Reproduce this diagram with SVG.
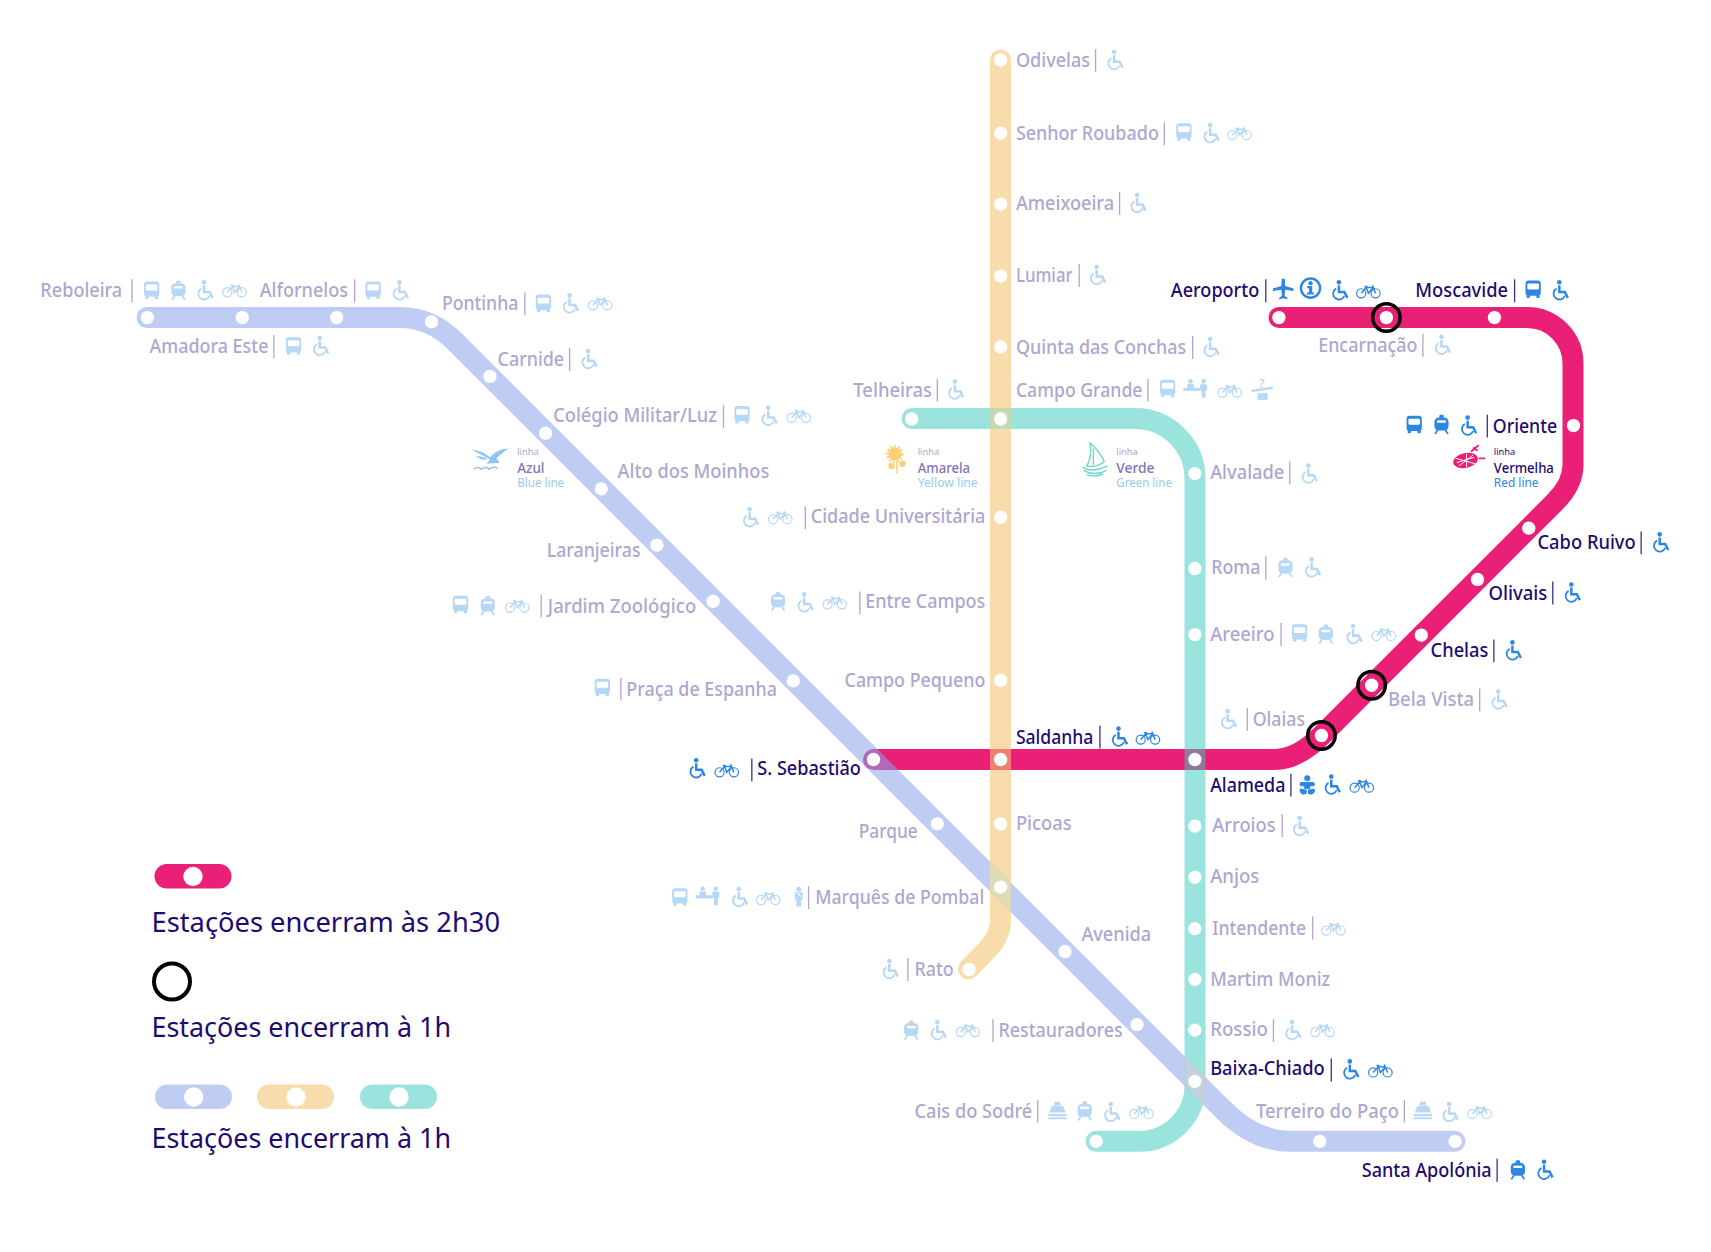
<svg xmlns="http://www.w3.org/2000/svg" width="1711" height="1252" viewBox="0 0 1711 1252">
<style>
text{font-family:"Noto Sans","Open Sans",sans-serif;transform:translateY(-.6px)}
.line{fill:none;stroke-width:21;stroke-linecap:round;stroke-linejoin:round}
.d{fill:#fff}
.r{fill:none;stroke:#000;stroke-width:3.2}
.p text{fill:#aea6d0;font-size:18.3px;font-weight:500}
.s text{fill:#1f0a72;font-size:18.3px;font-weight:500}
.p line{stroke:#aea6d0;stroke-width:1.2}
.s line{stroke:#3d2e8c;stroke-width:1.2}
.p use{color:#b6d7f6}
.s use{color:#2d87e2}
.lg{fill:#1f0a72;font-size:28px;transform:none}
.p text.k,.s text.k{font-size:8.5px;font-weight:400}
.p text.n{font-size:13.5px;fill:#7f74b4}
.s text.n{font-size:13.5px}
.p text.e,.s text.e{font-size:11.5px;font-weight:400;fill:#9cc9f3}
.s text.e{fill:#2d87e2}
</style>
<defs>
<g id="bus" fill="currentColor"><rect x="-7" y="-8" width="14" height="14" rx="2.8"/><rect x="-5.3" y="-5.2" width="10.600" height="5.4" rx="1" fill="#fff"/><rect x="-6" y="5.5" width="3" height="2.5"/><rect x="3" y="5.500" width="3" height="2.5"/></g>
<g id="train" fill="currentColor"><rect x="-6.500" y="-6.500" width="13" height="12" rx="4"/><rect x="-2" y="-8.800" width="4" height="3" rx="1"/><rect x="-4" y="-3.800" width="8" height="2.200" fill="#fff"/><path d="M-3.500 5-6 8.800M3.500 5 6 8.800" stroke="currentColor" stroke-width="1.600" fill="none"/></g>
<g id="chair"><circle cx="-1" cy="-7.300" r="2.100" fill="currentColor"/><path d="M-1-4.500V1.500H4L6.800 7" fill="none" stroke="currentColor" stroke-width="2.300"/><path d="M-3.500-1.500A5.300 5.300 0 1 0 4 5" fill="none" stroke="currentColor" stroke-width="1.700"/></g>
<g id="bike" fill="none" stroke="currentColor" stroke-width="1.100"><circle cx="-6.600" cy="1.800" r="4.200"/><circle cx="6.600" cy="1.800" r="4.200"/><path d="M-6.600 1.800-2-3.500H4.500L6.600 1.800M-2-3.500 0 1.800 4.500-3.500M3.600-5.500 4.500-3.500M-3.600-4.500H-.8" stroke-width="1.400"/></g>
<g id="plane" fill="currentColor"><path d="M-1.400-9.500H1.400L1.800-3 9.500-.5V1.700L1.800.5 1.200 6 3.800 8V9.300L0 8.400-3.800 9.300V8L-1.200 6-1.800.5-9.500 1.700V-.5L-1.800-3Z"/></g>
<g id="info"><circle r="8.800" fill="#fff" stroke="currentColor" stroke-width="2.200"/><circle cy="-4.500" r="2" fill="currentColor"/><path d="M-3-1.800H1.600V4H3.200V6H-3.400V4H-1.400V.2H-3Z" fill="currentColor"/></g>
<g id="ship" fill="currentColor"><path d="M-2.400-8.300H2.400L3.400-5H-3.400ZM-5.300-4.400H5.300L7.400 1.500H-7.400Z"/><rect x="-8.500" y="3" width="17" height="1.900"/><rect x="-8.500" y="6" width="17" height="1.700"/></g>
<g id="desk" fill="currentColor"><circle cx="-6" cy="-6.500" r="2.100"/><rect x="-9" y="-4" width="6" height="3.800"/><rect x="-12.500" y="-.6" width="15.500" height="2.800"/><circle cx="6" cy="-6.500" r="2.100"/><path d="M2.800-3.800H9.200V1.800H7.800V8.500H4.200V1.800H2.800Z"/></g>
<g id="help" fill="currentColor"><path d="M-10-.8 9.500-3.800V-1.700L-10 1.200ZM-4.500 2.400H4.500V8.500H-4.500Z"/></g>
<g id="guard" fill="currentColor"><circle cy="-7" r="2.300"/><path d="M-3.600-4.300H3.600V2.400H2.200V8.800H-2.200V2.400H-3.600Z"/><path d="M-1-3.800 2-.4" stroke="#fff" fill="none"/></g>
<g id="baby" fill="currentColor"><circle cy="-5.800" r="2.800"/><rect x="-7" y="-2.300" width="14" height="3.800" rx="1.900"/><rect x="-2.800" y="-1" width="5.600" height="5"/><path d="M-6.500 3.500A3.800 3.800 0 0 0-.5 8V4.800ZM6.500 3.500A3.800 3.800 0 0 1 .5 8V4.800Z"/></g>
</defs>

<g id="connectors">
<path id="line-red" class="line" stroke="#ea1f76" d="M1279 317.500H1527A46 46 0 0 1 1573 363.500V465Q1573 484 1555 502L1321.500 735.500Q1297 759.500 1275 759.500H873.500"/>
<path id="line-yellow" class="line" stroke="#f5c370" stroke-opacity=".58" d="M1000.500 60V920Q1000.500 936 987 950L968.500 969"/>
<path id="line-green" class="line" stroke="#3fcabe" stroke-opacity=".52" d="M912 418.500H1135A60 60 0 0 1 1195 478.500V1085A56 56 0 0 1 1139 1141.300H1096"/>
<path id="line-blue" class="line" stroke="#8aa4ec" stroke-opacity=".55" d="M147 317.500H400Q431 317.500 455 341.500L1222 1108.500Q1254 1141.300 1290 1141.300H1455"/>
<path id="cross-green-yellow" fill="#c4d8b4" d="M990 408H1011V429H990Z"/>
<path id="cross-blue-yellow" fill="#dfdab8" d="M990 861.600 1011 882.600V912.300L990 891.400Z"/>
<path id="cross-blue-green" fill="#c2d2d8" d="M1184.500 1056.100 1205.500 1077.100V1106.800L1184.500 1085.800Z"/>
</g>

<g id="legend">
<rect x="154.500" y="864" width="77" height="24.500" rx="12.250" fill="#ea1f76"/><circle class="d" cx="193" cy="876.500" r="9.700"/>
<text class="lg" x="151.500" y="931.500" textLength="348.500" lengthAdjust="spacingAndGlyphs">Estações encerram às 2h30</text>
<circle cx="172" cy="981.500" r="18" fill="none" stroke="#000" stroke-width="4"/>
<text class="lg" x="151.500" y="1036.500" textLength="299.500" lengthAdjust="spacingAndGlyphs">Estações encerram à 1h</text>
<rect x="155" y="1084.500" width="77" height="24.500" rx="12.250" fill="#bfcdf5"/><circle class="d" cx="193.700" cy="1097" r="9.700"/>
<rect x="257" y="1084.500" width="77" height="24.500" rx="12.250" fill="#f9dcac"/><circle class="d" cx="296" cy="1097" r="9.700"/>
<rect x="360" y="1084.500" width="77" height="24.500" rx="12.250" fill="#9be3dd"/><circle class="d" cx="399" cy="1097" r="9.700"/>
<text class="lg" x="151.500" y="1147.500" textLength="299.500" lengthAdjust="spacingAndGlyphs">Estações encerram à 1h</text>
</g>

<g id="map" transform="scale(1.0912)">
<g id="caption-azul" class="p">
<path d="M432 412Q442 413 449 419Q456 411 466 411Q459 416 455 420L458 424 446 425 449 421Q440 416 432 412ZM436 418Q442 418 447 421L441 421Z" fill="#8fc4f5"/>
<path d="M434 430q4-3 7 0q4-3 7 0q4-3 8-1" fill="none" stroke="#8fc4f5" stroke-width="1.400"/>
<text class="k" x="474" y="418">linha</text>
<text class="n" x="474" y="434" textLength="25" lengthAdjust="spacingAndGlyphs">Azul</text>
<text class="e" x="474" y="447" textLength="43" lengthAdjust="spacingAndGlyphs">Blue line</text>
</g>
<g id="caption-amarela" class="p">
<circle cx="820" cy="416" r="6" fill="#fbd078" stroke="#fbd078" stroke-width="4" stroke-dasharray="1.500 1.500"/>
<circle cx="827" cy="425" r="3" fill="#fbd078"/><circle cx="817" cy="427" r="3" fill="#fbd078"/>
<path d="M822 422V434" stroke="#fbd078" stroke-width="1.400"/>
<text class="k" x="841" y="418">linha</text>
<text class="n" x="841" y="434" textLength="48" lengthAdjust="spacingAndGlyphs">Amarela</text>
<text class="e" x="841" y="447" textLength="55" lengthAdjust="spacingAndGlyphs">Yellow line</text>
</g>
<g id="caption-verde" class="p">
<path d="M999 406Q1001 418 996 427Q1005 429 1012 423Q1008 414 999 406ZM1002 411V426" fill="none" stroke="#72d5cc" stroke-width="1.300"/>
<path d="M992 428Q1000 434 1015 427M993 431Q1003 437 1014 431M996 435Q1004 438 1011 434" fill="none" stroke="#72d5cc" stroke-width="1.300"/>
<text class="k" x="1023" y="418">linha</text>
<text class="n" x="1023" y="434" textLength="35" lengthAdjust="spacingAndGlyphs">Verde</text>
<text class="e" x="1023" y="447" textLength="51" lengthAdjust="spacingAndGlyphs">Green line</text>
</g>
<g id="caption-vermelha" class="s">
<ellipse cx="1343" cy="422" rx="11.500" ry="6.800" transform="rotate(-12 1343 422)" fill="#ea1f76"/>
<path d="M1334 420L1352 425M1337 427L1350 417M1344 416V428M1335 424L1351 419" stroke="#fff" stroke-width=".9"/>
<path d="M1348 414L1355 408M1350 410L1354 413M1355 420H1361" stroke="#ea1f76" stroke-width="1.700"/>
<text class="k" x="1369" y="418">linha</text>
<text class="n" x="1369" y="434" textLength="55" lengthAdjust="spacingAndGlyphs">Vermelha</text>
<text class="e" x="1369" y="447" textLength="41" lengthAdjust="spacingAndGlyphs">Red line</text>
</g>

<g id="reboleira" class="p"><circle class="d" cx="135" cy="291" r="6.100"/><text x="37" y="273" textLength="75" lengthAdjust="spacingAndGlyphs">Reboleira</text><line x1="121" x2="121" y1="256" y2="277"/><use href="#bus" x="139" y="266"/><use href="#train" x="163.500" y="266"/><use href="#chair" x="188" y="266"/><use href="#bike" x="215" y="266"/></g>
<g id="amadora-este" class="p"><circle class="d" cx="222" cy="291" r="6.100"/><text x="137" y="324" textLength="109" lengthAdjust="spacingAndGlyphs">Amadora Este</text><line x1="251" x2="251" y1="307" y2="328"/><use href="#bus" x="269" y="317"/><use href="#chair" x="294" y="317"/></g>
<g id="alfornelos" class="p"><circle class="d" cx="308.500" cy="291" r="6.100"/><text x="238" y="273" textLength="81" lengthAdjust="spacingAndGlyphs">Alfornelos</text><line x1="325" x2="325" y1="256" y2="277"/><use href="#bus" x="342" y="266"/><use href="#chair" x="367" y="266"/></g>
<g id="pontinha" class="p"><circle class="d" cx="395.500" cy="295" r="6.100"/><text x="405" y="285" textLength="70" lengthAdjust="spacingAndGlyphs">Pontinha</text><line x1="481" x2="481" y1="268" y2="289"/><use href="#bus" x="498" y="278"/><use href="#chair" x="523" y="278"/><use href="#bike" x="550" y="278"/></g>
<g id="carnide" class="p"><circle class="d" cx="449" cy="345" r="6.100"/><text x="456" y="336" textLength="61" lengthAdjust="spacingAndGlyphs">Carnide</text><line x1="522" x2="522" y1="319" y2="340"/><use href="#chair" x="540" y="329"/></g>
<g id="colegio-militar" class="p"><circle class="d" cx="500" cy="397" r="6.100"/><text x="507" y="387.500" textLength="150" lengthAdjust="spacingAndGlyphs">Colégio Militar/Luz</text><line x1="663" x2="663" y1="371" y2="392"/><use href="#bus" x="680" y="380"/><use href="#chair" x="705" y="381"/><use href="#bike" x="732" y="381"/></g>
<g id="alto-dos-moinhos" class="p"><circle class="d" cx="551" cy="448" r="6.100"/><text x="566" y="439" textLength="139" lengthAdjust="spacingAndGlyphs">Alto dos Moinhos</text></g>
<g id="laranjeiras" class="p"><circle class="d" cx="602" cy="499.500" r="6.100"/><text x="501" y="511" textLength="86" lengthAdjust="spacingAndGlyphs">Laranjeiras</text></g>
<g id="jardim-zoologico" class="p"><circle class="d" cx="653.500" cy="551" r="6.100"/><text x="502" y="562" textLength="136" lengthAdjust="spacingAndGlyphs">Jardim Zoológico</text><use href="#bus" x="422" y="554"/><use href="#train" x="447" y="555"/><use href="#bike" x="474" y="555"/><line x1="496" x2="496" y1="545" y2="566"/></g>
<g id="praca-de-espanha" class="p"><circle class="d" cx="727" cy="624" r="6.100"/><text x="574" y="638" textLength="138" lengthAdjust="spacingAndGlyphs">Praça de Espanha</text><use href="#bus" x="552" y="630"/><line x1="569" x2="569" y1="621" y2="642"/></g>
<g id="parque" class="p"><circle class="d" cx="859" cy="755" r="6.100"/><text x="787" y="769" textLength="54" lengthAdjust="spacingAndGlyphs">Parque</text></g>
<g id="avenida" class="p"><circle class="d" cx="976" cy="872" r="6.100"/><text x="991" y="863" textLength="64" lengthAdjust="spacingAndGlyphs">Avenida</text></g>
<g id="restauradores" class="p"><circle class="d" cx="1042" cy="939" r="6.100"/><text x="915" y="951" textLength="114" lengthAdjust="spacingAndGlyphs">Restauradores</text><use href="#train" x="835" y="944"/><use href="#chair" x="860" y="944"/><use href="#bike" x="887" y="944"/><line x1="910" x2="910" y1="934" y2="955"/></g>
<g id="terreiro-do-paco" class="p"><circle class="d" cx="1209.500" cy="1046" r="6.100"/><text x="1151" y="1025" textLength="131" lengthAdjust="spacingAndGlyphs">Terreiro do Paço</text><line x1="1287" x2="1287" y1="1008" y2="1029"/><use href="#ship" x="1304" y="1018"/><use href="#chair" x="1329" y="1019"/><use href="#bike" x="1356" y="1019"/></g>
<g id="santa-apolonia" class="s"><circle class="d" cx="1333.500" cy="1046" r="6.100"/><text x="1248" y="1079" textLength="119" lengthAdjust="spacingAndGlyphs">Santa Apolónia</text><line x1="1372" x2="1372" y1="1062" y2="1083"/><use href="#train" x="1391" y="1072"/><use href="#chair" x="1416" y="1072"/></g>

<g id="odivelas" class="p"><circle class="d" cx="917" cy="55" r="6.100"/><text x="931" y="62" textLength="68" lengthAdjust="spacingAndGlyphs">Odivelas</text><line x1="1004" x2="1004" y1="45" y2="66"/><use href="#chair" x="1022" y="55"/></g>
<g id="senhor-roubado" class="p"><circle class="d" cx="917" cy="122" r="6.100"/><text x="931" y="129" textLength="131" lengthAdjust="spacingAndGlyphs">Senhor Roubado</text><line x1="1067" x2="1067" y1="112" y2="133"/><use href="#bus" x="1085" y="121"/><use href="#chair" x="1110" y="122"/><use href="#bike" x="1136" y="122"/></g>
<g id="ameixoeira" class="p"><circle class="d" cx="917" cy="187" r="6.100"/><text x="931" y="193" textLength="90" lengthAdjust="spacingAndGlyphs">Ameixoeira</text><line x1="1026" x2="1026" y1="176" y2="197"/><use href="#chair" x="1043" y="186"/></g>
<g id="lumiar" class="p"><circle class="d" cx="917" cy="253" r="6.100"/><text x="931" y="259" textLength="52" lengthAdjust="spacingAndGlyphs">Lumiar</text><line x1="989" x2="989" y1="242" y2="263"/><use href="#chair" x="1006" y="252"/></g>
<g id="quinta-das-conchas" class="p"><circle class="d" cx="917" cy="318" r="6.100"/><text x="931" y="325" textLength="156" lengthAdjust="spacingAndGlyphs">Quinta das Conchas</text><line x1="1093" x2="1093" y1="308" y2="329"/><use href="#chair" x="1110" y="318"/></g>
<g id="campo-grande" class="p"><circle class="d" cx="917" cy="384" r="6.100"/><text x="931" y="364" textLength="116" lengthAdjust="spacingAndGlyphs">Campo Grande</text><line x1="1052" x2="1052" y1="347" y2="368"/><use href="#bus" x="1070" y="356"/><use href="#desk" x="1097" y="356"/><use href="#bike" x="1127" y="358"/><use href="#help" x="1157" y="358"/><text x="1153.500" y="356" style="font-size:12px;fill:#b6d7f6">?</text></g>
<g id="cidade-universitaria" class="p"><circle class="d" cx="917" cy="474" r="6.100"/><text x="743" y="480" textLength="160" lengthAdjust="spacingAndGlyphs">Cidade Universitária</text><use href="#chair" x="688" y="474"/><use href="#bike" x="715" y="474"/><line x1="738" x2="738" y1="464" y2="485"/></g>
<g id="entre-campos" class="p"><text x="793" y="558" textLength="110" lengthAdjust="spacingAndGlyphs">Entre Campos</text><use href="#train" x="713" y="551"/><use href="#chair" x="738" y="552"/><use href="#bike" x="765" y="552"/><line x1="788" x2="788" y1="542" y2="563"/></g>
<g id="campo-pequeno" class="p"><circle class="d" cx="917" cy="623.500" r="6.100"/><text x="774" y="630" textLength="129" lengthAdjust="spacingAndGlyphs">Campo Pequeno</text></g>
<g id="picoas" class="p"><circle class="d" cx="917" cy="755" r="6.100"/><text x="931" y="761" textLength="51" lengthAdjust="spacingAndGlyphs">Picoas</text></g>
<g id="marques-de-pombal" class="p"><circle class="d" cx="917" cy="813" r="6.100"/><text x="747" y="829" textLength="155" lengthAdjust="spacingAndGlyphs">Marquês de Pombal</text><use href="#bus" x="623" y="822"/><use href="#desk" x="650" y="821"/><use href="#chair" x="678" y="822"/><use href="#bike" x="704" y="823"/><use href="#guard" x="732" y="822"/><line x1="741" x2="741" y1="812" y2="833"/></g>
<g id="rato" class="p"><circle class="d" cx="888" cy="888.500" r="6.100"/><text x="838" y="895" textLength="36" lengthAdjust="spacingAndGlyphs">Rato</text><use href="#chair" x="816" y="888"/><line x1="832" x2="832" y1="878" y2="899"/></g>

<g id="telheiras" class="p"><circle class="d" cx="835.500" cy="384" r="6.100"/><text x="782" y="364" textLength="72" lengthAdjust="spacingAndGlyphs">Telheiras</text><line x1="859" x2="859" y1="347" y2="368"/><use href="#chair" x="876" y="357"/></g>
<g id="alvalade" class="p"><circle class="d" cx="1095" cy="434" r="6.100"/><text x="1109" y="440" textLength="68" lengthAdjust="spacingAndGlyphs">Alvalade</text><line x1="1182" x2="1182" y1="423" y2="444"/><use href="#chair" x="1200" y="434"/></g>
<g id="roma" class="p"><circle class="d" cx="1095" cy="521" r="6.100"/><text x="1110" y="527" textLength="45" lengthAdjust="spacingAndGlyphs">Roma</text><line x1="1160" x2="1160" y1="510" y2="531"/><use href="#train" x="1178" y="520"/><use href="#chair" x="1203" y="520"/></g>
<g id="areeiro" class="p"><circle class="d" cx="1095" cy="581.500" r="6.100"/><text x="1109" y="588" textLength="59" lengthAdjust="spacingAndGlyphs">Areeiro</text><line x1="1174" x2="1174" y1="571" y2="592"/><use href="#bus" x="1191" y="580"/><use href="#train" x="1215" y="581"/><use href="#chair" x="1241" y="581"/><use href="#bike" x="1268" y="581"/></g>
<g id="arroios" class="p"><circle class="d" cx="1095" cy="757" r="6.100"/><text x="1111" y="763" textLength="58" lengthAdjust="spacingAndGlyphs">Arroios</text><line x1="1175" x2="1175" y1="746" y2="767"/><use href="#chair" x="1192" y="757"/></g>
<g id="anjos" class="p"><circle class="d" cx="1095" cy="804" r="6.100"/><text x="1109" y="810" textLength="45" lengthAdjust="spacingAndGlyphs">Anjos</text></g>
<g id="intendente" class="p"><circle class="d" cx="1095" cy="851" r="6.100"/><text x="1111" y="857" textLength="86" lengthAdjust="spacingAndGlyphs">Intendente</text><line x1="1203" x2="1203" y1="840" y2="861"/><use href="#bike" x="1222" y="851"/></g>
<g id="martim-moniz" class="p"><circle class="d" cx="1095" cy="897.500" r="6.100"/><text x="1109" y="904" textLength="110" lengthAdjust="spacingAndGlyphs">Martim Moniz</text></g>
<g id="rossio" class="p"><circle class="d" cx="1095" cy="944" r="6.100"/><text x="1109" y="950" textLength="53" lengthAdjust="spacingAndGlyphs">Rossio</text><line x1="1167" x2="1167" y1="934" y2="955"/><use href="#chair" x="1185" y="944"/><use href="#bike" x="1212" y="944"/></g>
<g id="baixa-chiado" class="s"><circle class="d" cx="1095" cy="991" r="6.100"/><text x="1109" y="986" textLength="105" lengthAdjust="spacingAndGlyphs">Baixa-Chiado</text><line x1="1220" x2="1220" y1="970" y2="991"/><use href="#chair" x="1238" y="980"/><use href="#bike" x="1265" y="981"/></g>
<g id="cais-do-sodre" class="p"><circle class="d" cx="1004.500" cy="1046" r="6.100"/><text x="838" y="1025" textLength="108" lengthAdjust="spacingAndGlyphs">Cais do Sodré</text><line x1="951" x2="951" y1="1008" y2="1029"/><use href="#ship" x="969" y="1018"/><use href="#train" x="994" y="1018"/><use href="#chair" x="1019" y="1019"/><use href="#bike" x="1046" y="1019"/></g>

<g id="aeroporto" class="s"><circle class="d" cx="1172" cy="291" r="6.100"/><text x="1073" y="273" textLength="81" lengthAdjust="spacingAndGlyphs">Aeroporto</text><line x1="1160" x2="1160" y1="256" y2="277"/><use href="#plane" x="1176" y="265"/><use href="#info" x="1201" y="264"/><use href="#chair" x="1228" y="266"/><use href="#bike" x="1254" y="267"/></g>
<g id="encarnacao" class="p"><circle class="d" cx="1270.500" cy="291" r="6.100"/><circle class="r" cx="1270.500" cy="291" r="12.600"/><text x="1208" y="323" textLength="91" lengthAdjust="spacingAndGlyphs">Encarnação</text><line x1="1304" x2="1304" y1="306" y2="327"/><use href="#chair" x="1322" y="316"/></g>
<g id="moscavide" class="s"><circle class="d" cx="1369.500" cy="291" r="6.100"/><text x="1297" y="273" textLength="85" lengthAdjust="spacingAndGlyphs">Moscavide</text><line x1="1388" x2="1388" y1="256" y2="277"/><use href="#bus" x="1405" y="265"/><use href="#chair" x="1430" y="266"/></g>
<g id="oriente" class="s"><circle class="d" cx="1442" cy="390" r="6.100"/><text x="1368" y="397" textLength="59" lengthAdjust="spacingAndGlyphs">Oriente</text><use href="#bus" x="1296" y="389"/><use href="#train" x="1321" y="389"/><use href="#chair" x="1346" y="390"/><line x1="1363" x2="1363" y1="380" y2="401"/></g>
<g id="cabo-ruivo" class="s"><circle class="d" cx="1401" cy="484" r="6.100"/><text x="1409" y="504" textLength="90" lengthAdjust="spacingAndGlyphs">Cabo Ruivo</text><line x1="1504" x2="1504" y1="487" y2="508"/><use href="#chair" x="1522" y="497"/></g>
<g id="olivais" class="s"><circle class="d" cx="1354" cy="531" r="6.100"/><text x="1364" y="550" textLength="54" lengthAdjust="spacingAndGlyphs">Olivais</text><line x1="1423" x2="1423" y1="533" y2="554"/><use href="#chair" x="1441" y="543"/></g>
<g id="chelas" class="s"><circle class="d" cx="1302.500" cy="582" r="6.100"/><text x="1311" y="603" textLength="53" lengthAdjust="spacingAndGlyphs">Chelas</text><line x1="1369" x2="1369" y1="586" y2="607"/><use href="#chair" x="1387" y="596"/></g>
<g id="bela-vista" class="p"><circle class="d" cx="1257" cy="628" r="6.100"/><circle class="r" cx="1257" cy="628" r="12.600"/><text x="1272" y="648" textLength="79" lengthAdjust="spacingAndGlyphs">Bela Vista</text><line x1="1356" x2="1356" y1="631" y2="652"/><use href="#chair" x="1374" y="641"/></g>
<g id="olaias" class="p"><circle class="d" cx="1211" cy="674" r="6.100"/><circle class="r" cx="1211" cy="674" r="12.600"/><text x="1148" y="666" textLength="48" lengthAdjust="spacingAndGlyphs">Olaias</text><use href="#chair" x="1126" y="659"/><line x1="1143" x2="1143" y1="649" y2="670"/></g>
<g id="alameda" class="s"><circle class="d" cx="1095" cy="696" r="6.100"/><text x="1109" y="726" textLength="69" lengthAdjust="spacingAndGlyphs">Alameda</text><line x1="1183" x2="1183" y1="709" y2="730"/><use href="#baby" x="1198" y="719"/><use href="#chair" x="1221" y="719"/><use href="#bike" x="1248" y="720"/></g>
<g id="saldanha" class="s"><circle class="d" cx="917" cy="696" r="6.100"/><text x="931" y="682" textLength="71" lengthAdjust="spacingAndGlyphs">Saldanha</text><line x1="1008" x2="1008" y1="665" y2="686"/><use href="#chair" x="1026" y="675"/><use href="#bike" x="1052" y="676"/></g>
<g id="s-sebastiao" class="s"><circle class="d" cx="800.500" cy="696" r="6.100"/><text x="694" y="711" textLength="95" lengthAdjust="spacingAndGlyphs">S. Sebastião</text><use href="#chair" x="639" y="704"/><use href="#bike" x="666" y="706"/><line x1="689" x2="689" y1="695" y2="716"/></g>
</g>
</svg>
